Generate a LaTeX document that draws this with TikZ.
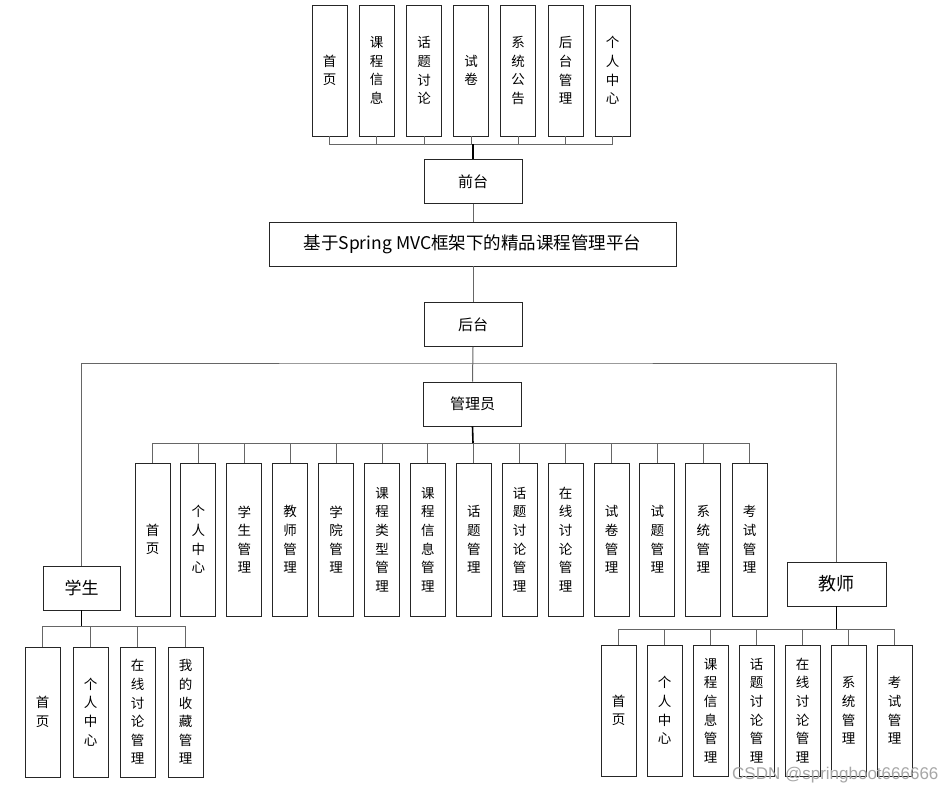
\documentclass[tikz,border=0pt]{standalone}
\usepackage{fontspec}
\setmainfont{Noto Sans CJK SC}
\newfontfamily\wmfont{Liberation Sans}
\usepackage{tikz}

\tikzset{
  box/.style={draw=black!85, line width=0.9pt, inner sep=0pt, align=center},
  vbox/.style={box, minimum width=35, font=\fontsize{13.5}{18.6}\selectfont},
  hbox/.style={box, minimum width=98, minimum height=44, font=\fontsize{15}{18}\selectfont},
  link/.style={draw=black!60, line width=1pt},
  stub/.style={draw=black, line width=1.6pt}
}

\begin{document}
\begin{tikzpicture}[x=1pt,y=-1pt]

    \useasboundingbox (0,0) rectangle (945,790);

    % front end
    \node[vbox, minimum height=131] (f1) at (329.5,70.5) {首\\页};
    \node[vbox, minimum height=131] (f2) at (376.5,70.5) {课\\程\\信\\息};
    \node[vbox, minimum height=131] (f3) at (424,70.5)   {话\\题\\讨\\论};
    \node[vbox, minimum height=131] (f4) at (471,70.5)   {试\\卷};
    \node[vbox, minimum height=131] (f5) at (518,70.5)   {系\\统\\公\\告};
    \node[vbox, minimum height=131] (f6) at (565.5,70.5) {后\\台\\管\\理};
    \node[vbox, minimum height=131] (f7) at (612.5,70.5) {个\\人\\中\\心};

    \node[hbox] (qt) at (473,181.5) {前台};
    \node[box, minimum width=407, minimum height=44, font=\fontsize{17.5}{20}\selectfont]
        (pt) at (472.5,244) {基于Spring MVC框架下的精品课程管理平台};
    \node[hbox] (ht) at (473,324.5) {后台};
    \node[hbox] (gly) at (472.5,404) {管理员};

    \node[box, minimum width=77, minimum height=44, font=\fontsize{17}{20}\selectfont] (xs) at (81.5,588) {学生};
    \node[box, minimum width=99, minimum height=44, font=\fontsize{18}{20}\selectfont] (js) at (836.5,584) {教师};

    % administrator
    \node[vbox, minimum height=153] (a1)  at (152.5,539.5) {首\\页};
    \node[vbox, minimum height=153] (a2)  at (198.4,539.5) {个\\人\\中\\心};
    \node[vbox, minimum height=153] (a3)  at (244.3,539.5) {学\\生\\管\\理};
    \node[vbox, minimum height=153] (a4)  at (290.2,539.5) {教\\师\\管\\理};
    \node[vbox, minimum height=153] (a5)  at (336.1,539.5) {学\\院\\管\\理};
    \node[vbox, minimum height=153] (a6)  at (382,539.5)   {课\\程\\类\\型\\管\\理};
    \node[vbox, minimum height=153] (a7)  at (427.9,539.5) {课\\程\\信\\息\\管\\理};
    \node[vbox, minimum height=153] (a8)  at (473.8,539.5) {话\\题\\管\\理};
    \node[vbox, minimum height=153] (a9)  at (519.7,539.5) {话\\题\\讨\\论\\管\\理};
    \node[vbox, minimum height=153] (a10) at (565.6,539.5) {在\\线\\讨\\论\\管\\理};
    \node[vbox, minimum height=153] (a11) at (611.5,539.5) {试\\卷\\管\\理};
    \node[vbox, minimum height=153] (a12) at (657.4,539.5) {试\\题\\管\\理};
    \node[vbox, minimum height=153] (a13) at (703.3,539.5) {系\\统\\管\\理};
    \node[vbox, minimum height=153] (a14) at (749.5,539.5) {考\\试\\管\\理};

    % student
    \node[vbox, minimum height=130] (s1) at (42.5,712)  {首\\页};
    \node[vbox, minimum height=130] (s2) at (90.5,712)  {个\\人\\中\\心};
    \node[vbox, minimum height=130] (s3) at (137.5,712) {在\\线\\讨\\论\\管\\理};
    \node[vbox, minimum height=130] (s4) at (185.5,712) {我\\的\\收\\藏\\管\\理};

    % teacher
    \node[vbox, minimum height=131] (t1) at (618.5,710.5) {首\\页};
    \node[vbox, minimum height=131] (t2) at (664.5,710.5) {个\\人\\中\\心};
    \node[vbox, minimum height=131] (t3) at (710.5,710.5) {课\\程\\信\\息\\管\\理};
    \node[vbox, minimum height=131] (t4) at (756.5,710.5) {话\\题\\讨\\论\\管\\理};
    \node[vbox, minimum height=131] (t5) at (802.5,710.5) {在\\线\\讨\\论\\管\\理};
    \node[vbox, minimum height=131] (t6) at (848.5,710.5) {系\\统\\管\\理};
    \node[vbox, minimum height=131] (t7) at (894.5,710.5) {考\\试\\管\\理};

    \coordinate (fbus) at (473,144);
    \coordinate (hbus) at (473,363);
    \coordinate (abus) at (473,443);
    \coordinate (sbus) at (81.5,626);
    \coordinate (tbus) at (836.5,629);

    \draw[link] (f1.south) |- (fbus) (f2.south) |- (fbus) (f3.south) |- (fbus)
        (f4.south) |- (fbus) (f5.south) |- (fbus) (f6.south) |- (fbus)
        (f7.south) |- (fbus);
    \draw[stub] (qt.north) -- (fbus);
    \draw[link] (qt.south) -- (qt.south |- pt.north);
    \draw[link] (ht.north |- pt.south) -- (ht.north);
    \draw[link] (ht.south) -- (gly.north);
    \draw[link] (xs.north) |- (hbus) -| (js.north);

    \draw[link] (a1.north) |- (abus) (a2.north) |- (abus) (a3.north) |- (abus)
        (a4.north) |- (abus) (a5.north) |- (abus) (a6.north) |- (abus)
        (a7.north) |- (abus) (a8.north) |- (abus) (a9.north) |- (abus)
        (a10.north) |- (abus) (a11.north) |- (abus) (a12.north) |- (abus)
        (a13.north) |- (abus) (a14.north) |- (abus);
    \draw[stub] (gly.south) -- (abus);

    \draw[link] (s1.north) |- (sbus) (s2.north) |- (sbus) (s3.north) |- (sbus)
        (s4.north) |- (sbus);
    \draw[stub] (xs.south) -- (sbus);

    \draw[link] (t1.north) |- (tbus) (t2.north) |- (tbus) (t3.north) |- (tbus)
        (t4.north) |- (tbus) (t5.north) |- (tbus) (t6.north) |- (tbus)
        (t7.north) |- (tbus);
    \draw[stub] (js.south) -- (tbus);

    \node[text=black!35, font=\wmfont\fontsize{17}{19}\selectfont, anchor=east] (wm) at (942,775) {CSDN @springboot666666};

\end{tikzpicture}
\end{document}
